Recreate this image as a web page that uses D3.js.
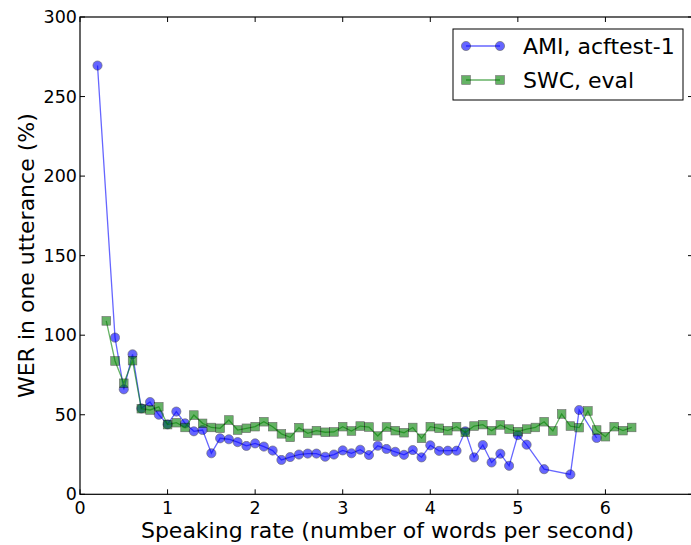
<html>
<head>
<script src="https://d3js.org/d3.v7.min.js"></script>
<style>
  body { margin: 0; background: white; }
  text { font-family: "DejaVu Sans", sans-serif; fill: black; }
</style>
</head>
<body>
<svg id="chart" width="691" height="545"></svg>
<script>
// speaking rate (words / second) and WER (%)
const amiRate = [0.2,0.4,0.5,0.6,0.7,0.8,0.9,1.0,1.1,1.2,1.3,1.4,1.5,1.6,1.7,1.8,1.9,2.0,2.1,2.2,2.3,2.4,2.5,2.6,2.7,2.8,2.9,3.0,3.1,3.2,3.3,3.4,3.5,3.6,3.7,3.8,3.9,4.0,4.1,4.2,4.3,4.4,4.5,4.6,4.7,4.8,4.9,5.0,5.1,5.3,5.6,5.7,5.9];
const amiWer  = [269.5,98.5,66,88,54,58,50,44,52,44.6,39.6,40.4,25.8,35.2,34.6,32.8,30.4,32,30,27.5,21.6,23.4,25,25.6,25.6,23.6,25,27.6,25.8,28,24.7,30.5,28.5,26.7,24.8,27.8,23.2,30.8,27.3,27.4,27.4,39.6,23.2,31,20,25.5,17.9,37.2,31.2,15.8,12.5,53,35.4];

const swcRate = [0.3,0.4,0.5,0.6,0.7,0.8,0.9,1.0,1.1,1.2,1.3,1.4,1.5,1.6,1.7,1.8,1.9,2.0,2.1,2.2,2.3,2.4,2.5,2.6,2.7,2.8,2.9,3.0,3.1,3.2,3.3,3.4,3.5,3.6,3.7,3.8,3.9,4.0,4.1,4.2,4.3,4.4,4.5,4.6,4.7,4.8,4.9,5.0,5.1,5.2,5.3,5.4,5.5,5.6,5.7,5.8,5.9,6.0,6.1,6.2,6.3];
const swcWer  = [109,83.8,69.8,84,53.8,53,55,43.8,45,42,49.8,44.6,42,41.5,46.7,40.4,41.5,42.5,45.6,42.5,38,35.8,41.9,38.3,40,39,39.2,42.5,39.8,42.9,42.3,36.6,42.3,40,38.7,42,35.2,42.5,41.5,40,42.5,38.9,42.9,43.8,40,43.6,41,39.4,41,42,45.6,39.8,50.5,42.9,41.9,52.4,40.4,36.2,42.5,40,42];

const xTicks = [0,1,2,3,4,5,6];
const yTicks = [0,50,100,150,200,250,300];
const seriesNames = ["AMI, acftest-1", "SWC, eval"];

var pLeft = 80, pRight = 693, pTop = 17, pBottom = 494.3;

var svg = d3.select("#chart");
var xs = d3.scaleLinear().domain([0,7]).range([pLeft,pRight]);
var ys = d3.scaleLinear().domain([0,300]).range([pBottom,pTop]);

// frame
svg.append("rect")
    .attr("x",pLeft).attr("y",pTop)
    .attr("width",pRight-pLeft).attr("height",pBottom-pTop)
    .attr("fill","none").attr("stroke","black").attr("stroke-width",1.2);

// inward ticks on all four sides
var tl = 5;
xTicks.forEach(function(t) {
    svg.append("line").attr("x1",xs(t)).attr("x2",xs(t)).attr("y1",pBottom).attr("y2",pBottom-tl)
        .attr("stroke","black");
    svg.append("line").attr("x1",xs(t)).attr("x2",xs(t)).attr("y1",pTop).attr("y2",pTop+tl)
        .attr("stroke","black");
    svg.append("text").attr("x",xs(t)).attr("y",pBottom+20)
        .attr("text-anchor","middle").style("font-size","17.5px").text(t);
});
yTicks.forEach(function(t) {
    svg.append("line").attr("x1",pLeft).attr("x2",pLeft+tl).attr("y1",ys(t)).attr("y2",ys(t))
        .attr("stroke","black");
    svg.append("line").attr("x1",pRight).attr("x2",pRight-tl).attr("y1",ys(t)).attr("y2",ys(t))
        .attr("stroke","black");
    svg.append("text").attr("x",pLeft-3).attr("y",ys(t)+6)
        .attr("text-anchor","end").style("font-size","17.5px").text(t);
});

// axis labels
svg.append("text")
    .attr("x",(pLeft+pRight)/2+1).attr("y",538)
    .attr("text-anchor","middle").style("font-size","22px")
    .text("Speaking rate (number of words per second)");
svg.append("text")
    .attr("transform","translate(34,"+((pTop+pBottom)/2)+") rotate(-90)")
    .attr("text-anchor","middle").style("font-size","22px")
    .text("WER in one utterance (%)");

var line = d3.line().x(function(d){return xs(d[0]);}).y(function(d){return ys(d[1]);});
var ami = amiRate.map(function(r,i){return [r, amiWer[i]];});
var swc = swcRate.map(function(r,i){return [r, swcWer[i]];});

function marker(x, y, color, shape) {
    if (shape == "circle") {
        svg.append("circle").attr("cx",x).attr("cy",y).attr("r",4.6)
            .attr("fill",color).attr("stroke","black").attr("stroke-width",0.6).attr("opacity",0.6);
    } else {
        svg.append("rect").attr("x",x-4.3).attr("y",y-4.3)
            .attr("width",8.6).attr("height",8.6)
            .attr("fill",color).attr("stroke","black").attr("stroke-width",0.6).attr("opacity",0.6);
    }
}

function drawSeries(data, color, shape) {
    svg.append("path").datum(data)
        .attr("d",line).attr("fill","none")
        .attr("stroke",color).attr("stroke-width",1.3).attr("opacity",0.6);
    data.forEach(function(d) { marker(xs(d[0]), ys(d[1]), color, shape); });
}
drawSeries(ami,"#0000ff","circle");
drawSeries(swc,"#008000","square");

// legend
svg.append("rect").attr("x",453).attr("y",29).attr("width",230).attr("height",71)
    .attr("fill","white").attr("stroke","black").attr("stroke-width",1);
var legColors = ["#0000ff","#008000"];
var legShape = ["circle","square"];
seriesNames.forEach(function(name,i) {
    var yy = 46 + i*34;
    svg.append("line").attr("x1",466).attr("x2",500).attr("y1",yy).attr("y2",yy)
        .attr("stroke",legColors[i]).attr("stroke-width",1.3).attr("opacity",0.6);
    marker(466, yy, legColors[i], legShape[i]);
    marker(500, yy, legColors[i], legShape[i]);
    svg.append("text").attr("x",523).attr("y",yy+8).style("font-size","22px").text(name);
});
</script>
</body>
</html>
